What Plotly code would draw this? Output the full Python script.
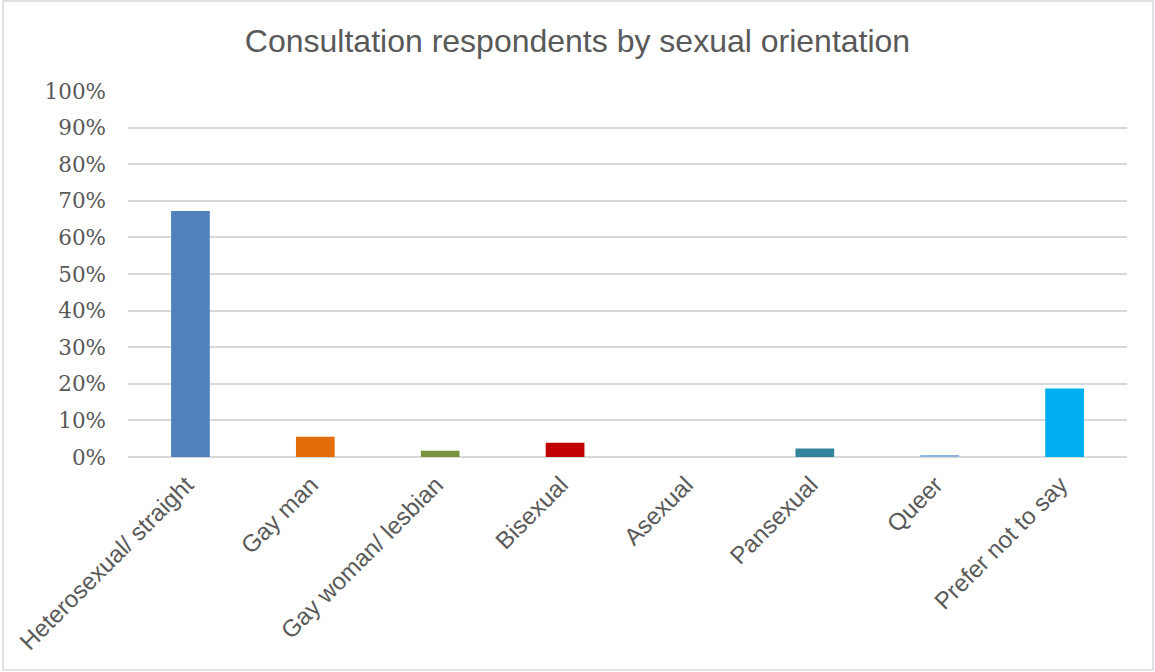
import plotly.graph_objects as go

# Survey results: share of consultation respondents per sexual orientation
categories = [
    "Heterosexual/ straight",
    "Gay man",
    "Gay woman/ lesbian",
    "Bisexual",
    "Asexual",
    "Pansexual",
    "Queer",
    "Prefer not to say",
]
shares = [0.672, 0.055, 0.017, 0.039, 0.0, 0.023, 0.005, 0.187]
bar_colors = ["#4F81BD", "#E46C0A", "#77933C", "#C00000", "#8064A2",
              "#31859C", "#8EB4E3", "#00B0F0"]
y_ticks = [i / 10 for i in range(11)]

fig = go.Figure(
    go.Bar(
        x=categories,
        y=shares,
        marker=dict(color=bar_colors, line=dict(width=0)),
        hoverinfo="x+y",
    )
)

W, H = 1155, 672
L, R, T, B = 128, 28, 91, 215
pw, ph = W - L - R, H - T - B

def px_x(p):
    return (p - L) / pw

def px_y(p):
    return (H - B - p) / ph

fig.update_layout(
    width=W,
    height=H,
    margin=dict(l=L, r=R, t=T, b=B),
    paper_bgcolor="white",
    plot_bgcolor="white",
    bargap=0.69,
    showlegend=False,
    title=dict(
        text="Consultation respondents by sexual orientation",
        x=0.5,
        xanchor="center",
        y=1 - 41 / H,
        yanchor="middle",
        font=dict(family="Liberation Sans, Arial", size=32, color="#595959"),
    ),
    xaxis=dict(
        tickangle=-45,
        tickfont=dict(family="Liberation Sans, Arial", size=24, color="#595959"),
        showgrid=False,
        showline=False,
        ticks="",
        ticklabelstandoff=8,
        ticklabelshift=-4,
    ),
    yaxis=dict(
        range=[0, 1.0],
        tickvals=y_ticks,
        tickformat=".0%",
        tickfont=dict(family="DejaVu Serif", size=21.5, color="#595959"),
        gridcolor="#D9D9D9",
        gridwidth=1.5,
        zeroline=True,
        zerolinecolor="#D9D9D9",
        zerolinewidth=1.5,
        showline=False,
        ticks="",
        ticklabelstandoff=21,
    ),
    shapes=[
        dict(
            type="rect",
            xref="paper",
            yref="paper",
            x0=px_x(3),
            x1=px_x(1153),
            y0=px_y(670),
            y1=px_y(1),
            line=dict(color="#D9D9D9", width=1.5),
            fillcolor="rgba(0,0,0,0)",
            layer="below",
        )
    ],
)

fig.write_html("out.html")
